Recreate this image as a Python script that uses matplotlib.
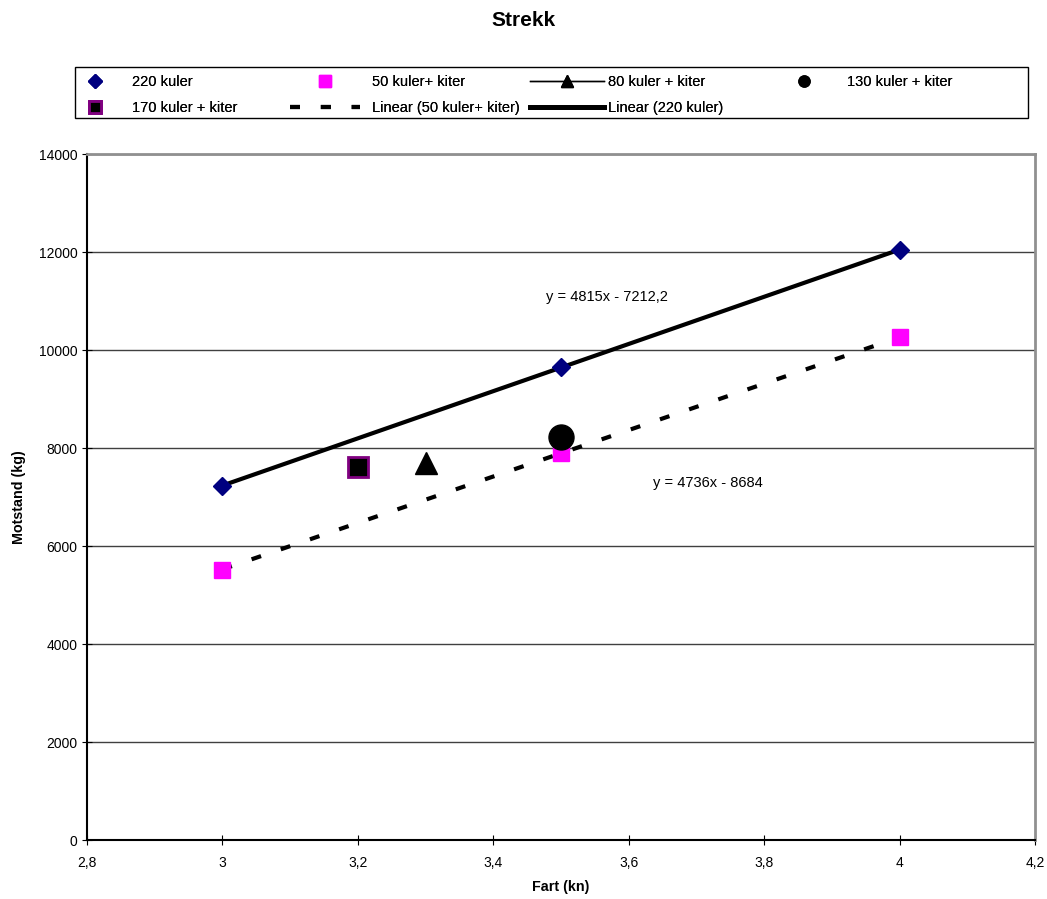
import numpy as np
import matplotlib
matplotlib.use("Agg")
import matplotlib.pyplot as plt
from matplotlib.patches import Rectangle

plt.rcParams['font.family'] = ['Liberation Sans', 'DejaVu Sans']

# data
x_220 = [3.0, 3.5, 4.0]
y_220 = [7230, 9650, 12045]
x_50 = [3.0, 3.5, 4.0]
y_50 = [5520, 7900, 10256]
x_80 = [3.3]
y_80 = [7700]
x_130 = [3.5]
y_130 = [8220]
x_170 = [3.2]
y_170 = [7620]
x_ticks = [2.8, 3.0, 3.2, 3.4, 3.6, 3.8, 4.0, 4.2]
x_tick_labels = ['2,8', '3', '3,2', '3,4', '3,6', '3,8', '4', '4,2']
y_ticks = [0, 2000, 4000, 6000, 8000, 10000, 12000, 14000]

W, H = 1047, 899
fig = plt.figure(figsize=(W/100, H/100), dpi=100)
ax = fig.add_axes([87/W, 59/H, 948/W, 686/H])

ax.yaxis.grid(True, color='#404040', lw=1)
ax.set_axisbelow(True)

dash = (0, (2.4, 5.0))

# trend lines
p220 = np.polyfit(x_220, y_220, 1)
p50 = np.polyfit(x_50, y_50, 1)
xl = np.array([3.0, 4.0])
l50, = ax.plot(xl, np.polyval(p50, xl), color='black', lw=3,
               linestyle=dash, dash_capstyle='butt', zorder=2)
l220, = ax.plot(xl, np.polyval(p220, xl), color='black', lw=3, zorder=2)

ax.plot(x_220, y_220, 'D', color='#000080', ms=9, ls='none', zorder=3)
ax.plot(x_50, y_50, 's', color='#FF00FF', ms=11, ls='none', zorder=3)
ax.plot(x_80, y_80, '^', color='black', ms=16, ls='none', zorder=3)
ax.plot(x_130, y_130, 'o', color='black', ms=18, ls='none', zorder=4)
ax.plot(x_170, y_170, 's', color='black', mec='#800080', mew=2,
        ms=14, ls='none', zorder=3)

ax.text(3.568, 11080, 'y = 4815x - 7212,2', fontsize=10.5, ha='center', va='center')
ax.text(3.717, 7286, 'y = 4736x - 8684', fontsize=10.5, ha='center', va='center')

ax.set_xlim(2.8, 4.2)
ax.set_ylim(0, 14000)
ax.set_xticks(x_ticks)
ax.set_xticklabels(x_tick_labels)
ax.set_yticks(y_ticks)
ax.tick_params(direction='inout', length=7, labelsize=10, color='black')
ax.tick_params(axis='x', pad=8)
for s in ['top', 'right']:
    ax.spines[s].set_color('#909090')
    ax.spines[s].set_linewidth(2)
for s in ['left', 'bottom']:
    ax.spines[s].set_linewidth(1.5)

ax.set_xlabel('Fart (kn)', fontsize=10.3, fontweight='bold', labelpad=7)
ax.set_ylabel('Motstand (kg)', fontsize=10.3, fontweight='bold', labelpad=9)
fig.suptitle('Strekk', fontsize=15, fontweight='bold', y=1 - 20/H, va='center')

# legend handles
h220_leg, = ax.plot([], [], 'D', color='#000080', ms=7)
h50_leg, = ax.plot([], [], 's', color='#FF00FF', ms=8)
h80_leg, = ax.plot([], [], '-^', color='black', lw=1, ms=9)
h130_leg, = ax.plot([], [], 'o', color='black', ms=8)
h170_leg, = ax.plot([], [], 's', color='black', mec='#800080', mew=2, ms=8)
d50_leg, = ax.plot([], [], color='black', lw=3, linestyle=dash,
                   dash_capstyle='butt')
s220_leg, = ax.plot([], [], color='black', lw=3.5)

fig.add_artist(Rectangle((75/W, 1 - 118/H), 953/W, 51/H, transform=fig.transFigure,
                         fill=False, edgecolor='black', lw=1))

# one legend per column, placed like the reference
columns = [
    ([h220_leg, h170_leg], ['220 kuler', '170 kuler + kiter'], 80, 2.0, 1.6),
    ([h50_leg, d50_leg], ['50 kuler+ kiter', 'Linear (50 kuler+ kiter)'], 290, 4.8, 0.8),
    ([h80_leg, s220_leg], ['80 kuler + kiter', 'Linear (220 kuler)'], 530, 5.1, 0.27),
    ([h130_leg], ['130 kuler + kiter'], 789, 2.0, 2.0),
]
for hs, ls, x0, hl, tp in columns:
    lg = fig.legend(hs, ls, loc='upper left', bbox_to_anchor=(x0/W, 1 - 75/H),
                    fontsize=10.5, frameon=False, handlelength=hl,
                    handletextpad=tp, borderaxespad=0, borderpad=0,
                    labelspacing=0.8)
    fig.add_artist(lg)

fig.savefig('out.png', dpi=100)
